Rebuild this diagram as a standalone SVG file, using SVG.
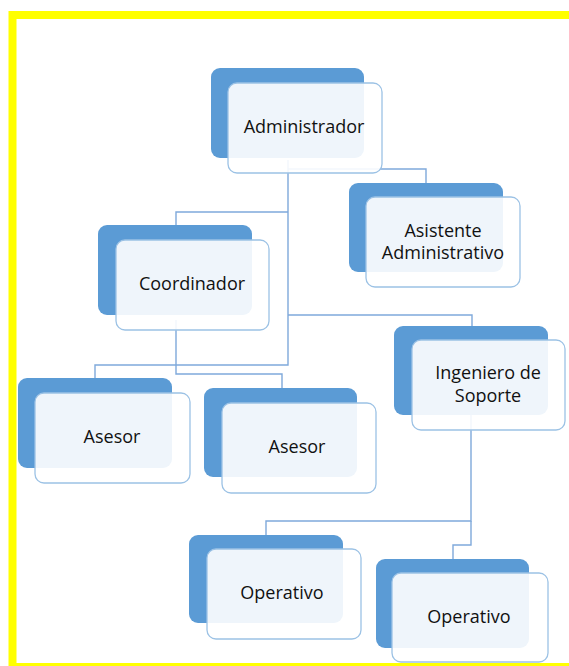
<svg xmlns="http://www.w3.org/2000/svg" width="569" height="666" viewBox="0 0 569 666">
<style>
.back{fill:#5B9BD5;}
.front{fill:#FFFFFF;fill-opacity:0.9;stroke:#9CC2E5;stroke-width:1.3;}
.conn{fill:none;stroke:#7FA9DB;stroke-width:1.4;}
.lbl{font-family:"Open Sans","Liberation Sans",sans-serif;font-size:18px;fill:#111111;text-anchor:middle;}
</style>
<rect x="0" y="0" width="569" height="666" fill="#FFFFFF"/>
<rect x="12.5" y="15" width="600" height="652" fill="none" stroke="#FFFF00" stroke-width="8"/>
<g id="connectors">
<path class="conn" d="M288,160 V365 H95 V378"/>
<path class="conn" d="M288,212 H176 V225"/>
<path class="conn" d="M288,169 H426 V183"/>
<path class="conn" d="M288,315 H472 V326"/>
<path class="conn" d="M176,320 V374 H282 V388"/>
<path class="conn" d="M471,415 V521 H266 V535"/>
<path class="conn" d="M471,521 V545 H453 V559"/>
</g>
<g id="admin">
<rect class="back" x="211" y="68" width="153" height="90" rx="9"/>
<rect class="front" x="228" y="83" width="154" height="90" rx="9"/>
<text class="lbl" x="304" y="133">Administrador</text>
</g>
<g id="asistente">
<rect class="back" x="349" y="183" width="154" height="89" rx="9"/>
<rect class="front" x="366" y="197" width="154" height="90" rx="9"/>
<text class="lbl" x="443" y="237">Asistente</text>
<text class="lbl" x="443" y="259">Administrativo</text>
</g>
<g id="coordinador">
<rect class="back" x="98" y="225" width="154" height="90" rx="9"/>
<rect class="front" x="116" y="240" width="153" height="90" rx="9"/>
<text class="lbl" x="192" y="290">Coordinador</text>
</g>
<g id="ingeniero">
<rect class="back" x="394" y="326" width="154" height="89" rx="9"/>
<rect class="front" x="412" y="340" width="153" height="90" rx="9"/>
<text class="lbl" x="488" y="379">Ingeniero de</text>
<text class="lbl" x="488" y="402">Soporte</text>
</g>
<g id="asesor1">
<rect class="back" x="18" y="378" width="154" height="90" rx="9"/>
<rect class="front" x="35" y="393" width="155" height="90" rx="9"/>
<text class="lbl" x="112" y="443">Asesor</text>
</g>
<g id="asesor2">
<rect class="back" x="204" y="388" width="153" height="89" rx="9"/>
<rect class="front" x="222" y="403" width="154" height="90" rx="9"/>
<text class="lbl" x="297" y="453">Asesor</text>
</g>
<g id="operativo1">
<rect class="back" x="189" y="535" width="154" height="88" rx="9"/>
<rect class="front" x="207" y="549" width="154" height="90" rx="9"/>
<text class="lbl" x="282" y="599">Operativo</text>
</g>
<g id="operativo2">
<rect class="back" x="376" y="559" width="153" height="89" rx="9"/>
<rect class="front" x="392" y="573" width="156" height="89" rx="9"/>
<text class="lbl" x="469" y="623">Operativo</text>
</g>
</svg>
